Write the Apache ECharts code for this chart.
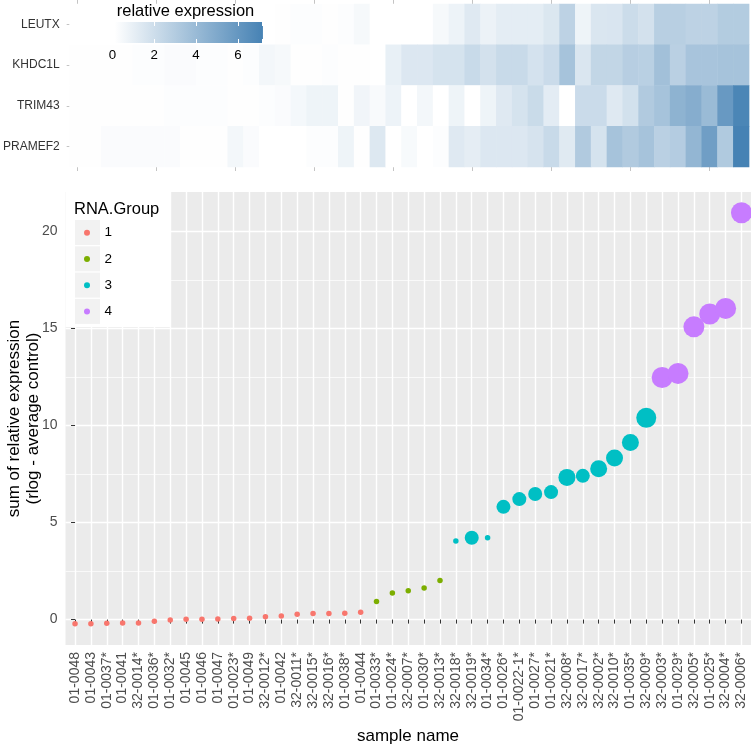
<!DOCTYPE html>
<html><head><meta charset="utf-8">
<script src="https://cdn.jsdelivr.net/npm/echarts@6/dist/echarts.min.js"></script>
<style>html,body{margin:0;padding:0;background:#fff}#c{width:751px;height:750px}</style>
</head><body><div id="c"></div>
<script>
// ---------------- data ----------------
const samples = ['01-0048','01-0043','01-0037*','01-0041','32-0014*','01-0036*','01-0032*','01-0045','01-0046','01-0047','01-0023*','01-0049','32-0012*','01-0042','32-0011*','32-0015*','32-0016*','01-0038*','01-0044',
  '01-0033*','01-0024*','32-0007*','01-0030*','32-0013*',
  '32-0018*','32-0019*','01-0034*','01-0026*','01-0022-1*','01-0027*','01-0021*','32-0008*','32-0017*','32-0002*','32-0010*','01-0035*','32-0009*',
  '32-0003*','01-0029*','32-0005*','01-0025*','32-0004*','32-0006*'];
const rnaGroup = [1,1,1,1,1,1,1,1,1,1,1,1,1,1,1,1,1,1,1, 2,2,2,2,2, 3,3,3,3,3,3,3,3,3,3,3,3,3, 4,4,4,4,4,4];
const sumExpression = [-0.21,-0.21,-0.19,-0.17,-0.17,-0.09,-0.02,0.02,0.02,0.03,0.05,0.07,0.14,0.19,0.28,0.31,0.31,0.33,0.38,
  0.93,1.37,1.49,1.63,2.01,
  4.05,4.22,4.22,5.81,6.21,6.47,6.57,7.33,7.41,7.77,8.33,9.13,10.40,
  12.48,12.69,15.09,15.75,16.04,20.97];
// size class of each point (mapped to symbol size)
const sizeClass = [0,0,0,0,0,0,0,0,0,0,0,0,0,0,0,0,0,0,0, 0,0,0,0,0, 0,1,0,1,1,1,1,2,1,2,2,2,3, 4,4,4,4,4,4];
const groups = ['1','2','3','4'];
const genes = ['LEUTX','KHDC1L','TRIM43','PRAMEF2'];
const exprLEUTX = [0.1,0.1,0.1,0.1,0.1,0.1,0.1,0.1,0.1,0.1,0.1,0.1,0.1,0.15,0.2,0.2,0.15,0.2,0.45,0.1,0.1,0.1,0.1,
  0.45,0.79,1.33,0.83,1.14,1.14,1.14,1.48,2.63,0.75,1.52,1.56,2.1,1.79,2.83,2.83,2.63,2.63,3.02,3.02];
const exprKHDC1L = [0.15,0.15,0.15,0.15,0.2,0.2,0.3,0.3,0.2,0.2,0.15,0.2,0.56,0.45,0.15,0.15,0.2,0.15,0.15,0.1,
  0.98,1.44,1.44,1.71,1.71,2.21,1.79,2.21,2.21,1.75,2.13,3.52,1.52,2.44,2.44,2.86,2.79,3.67,2.75,3.44,3.44,3.52,3.52];
const exprTRIM43 = [0.15,0.15,0.15,0.15,0.15,0.15,0.2,0.2,0.2,0.2,0.15,0.15,0.2,0.3,0.52,0.75,0.75,0.15,0.64,0.37,
  0.79,0.1,0.56,0.1,0.75,0.1,0.75,1.33,1.71,2.17,1.17,0.1,2.13,2.13,1.33,1.83,3.1,3.52,4.44,4.74,3.98,5.9,7.0];
const exprPRAMEF2 = [0.15,0.15,0.3,0.3,0.3,0.3,0.3,0.15,0.15,0.15,0.56,0.3,0.1,0.1,0.1,0.2,0.2,0.75,0.15,1.4,
  0.1,0.4,0.1,0.2,1.33,1.1,1.44,1.44,1.44,1.67,2.21,1.29,3.1,1.71,3.52,3.1,3.52,2.75,2.98,4.25,5.59,3.13,7.2];
const colorbarTicks = [0,2,4,6];
const yMajorTicks = [0,5,10,15,20];
const yMinorTicks = [2.5,7.5,12.5,17.5];

// ---------------- styling ----------------
const groupColors = ['#F8766D','#7CAE00','#00BFC4','#C77CFF'];
const sizePx = [5.5,14,17,20,21];
const lowColor = '#ffffff', highColor = '#4682B4';
const txt = '#4D4D4D';
const font = 'Liberation Sans';

const exprRows = [exprLEUTX, exprKHDC1L, exprTRIM43, exprPRAMEF2];
const heatData = [];
exprRows.forEach((row, g) => row.forEach((v, i) => heatData.push([i, genes.length - 1 - g, v])));
const allExpr = [].concat(...exprRows);
const fillMin = Math.min(...allExpr), fillMax = Math.max(...allExpr);

const idx = samples.map((_, i) => i);
const scatterSeries = groups.map((g, k) => ({
  type: 'scatter', name: g, xAxisIndex: 2, yAxisIndex: 1, z: 3,
  itemStyle: { color: groupColors[k], opacity: 1 },
  symbolSize: (v) => sizePx[v[2]],
  data: idx.filter(i => String(rnaGroup[i]) === g).map(i => [i, sumExpression[i], sizeClass[i]])
}));

const keyGraphics = groups.map((g, k) => ({
  type: 'rect', z: 6, shape: { x: 75, y: 220 + 26.3 * k, width: 25, height: 25 },
  style: { fill: '#F2F2F2' }
}));

const option = {
  animation: false,
  backgroundColor: '#ffffff',
  grid: [
    { left: 67.1, width: 682, top: 4, height: 163 },
    { left: 65.5, right: 0, top: 192, height: 453, show: true, backgroundColor: '#EBEBEB', borderWidth: 0 },
    { left: 112.5, width: 149.8, top: 22, height: 21 }
  ],
  xAxis: [
    { gridIndex: 0, type: 'category', data: samples, position: 'bottom',
      axisLine: { show: false }, axisLabel: { show: false },
      axisTick: { show: true, alignWithLabel: true, length: 4, lineStyle: { color: '#c4c4c4' } }, splitLine: { show: false } },
    { gridIndex: 0, type: 'category', data: samples, position: 'top',
      axisLine: { show: false }, axisLabel: { show: false },
      axisTick: { show: true, alignWithLabel: true, length: 4, lineStyle: { color: '#c4c4c4' } }, splitLine: { show: false } },
    { gridIndex: 1, type: 'value', min: -0.6, max: samples.length - 0.4,
      axisLine: { show: false },
      axisTick: { show: true, customValues: idx, length: 4, lineStyle: { color: '#333333', width: 1 } },
      axisLabel: { customValues: idx, rotate: 90, margin: 7, fontSize: 14, color: txt, fontFamily: font,
        formatter: (v) => samples[Math.round(v)] },
      splitLine: { show: true, lineStyle: { color: '#ffffff', width: 1.4 } } },
    { gridIndex: 2, type: 'value', min: 0, max: 7.17, interval: 2, position: 'bottom', z: 5,
      axisLine: { show: false }, splitLine: { show: false },
      axisTick: { show: true, inside: true, length: 4, lineStyle: { color: '#ffffff', width: 1 } },
      axisLabel: { customValues: colorbarTicks, margin: 6, fontSize: 13.3, color: '#000000', fontFamily: font } },
    { gridIndex: 2, type: 'value', min: 0, max: 7.17, interval: 2, position: 'top', z: 5,
      axisLine: { show: false }, splitLine: { show: false }, axisLabel: { show: false },
      axisTick: { show: true, inside: true, length: 4, lineStyle: { color: '#ffffff', width: 1 } } }
  ],
  yAxis: [
    { gridIndex: 0, type: 'category', data: genes.slice().reverse(),
      axisLine: { show: false }, splitLine: { show: false },
      axisTick: { show: true, alignWithLabel: true, length: 3, lineStyle: { color: '#c4c4c4' } },
      axisLabel: { margin: 10, fontSize: 12, color: '#333333', fontFamily: font } },
    { gridIndex: 1, type: 'value', min: -1.31, max: 22.04,
      axisLine: { show: false },
      axisTick: { show: true, customValues: yMajorTicks, length: 4, lineStyle: { color: '#333333' } },
      axisLabel: { customValues: yMajorTicks, margin: 8, fontSize: 14, color: txt, fontFamily: font } ,
      splitLine: { show: true, lineStyle: { color: '#ffffff', width: 1.4 } } },
    { gridIndex: 1, type: 'value', min: -1.31, max: 22.04,
      axisLine: { show: false }, axisLabel: { show: false },
      axisTick: { show: false, customValues: yMinorTicks },
      splitLine: { show: true, lineStyle: { color: '#ffffff', width: 0.7 } } },
    { gridIndex: 2, type: 'value', min: 0, max: 1, show: false }
  ],
  visualMap: {
    show: false, type: 'continuous', seriesIndex: 0, dimension: 2,
    min: fillMin, max: fillMax, inRange: { color: [lowColor, highColor] }
  },
  legend: {
    orient: 'vertical', left: 84, top: 225.7, padding: 0, z: 10,
    icon: 'circle', itemWidth: 25, itemHeight: 6, itemGap: 12.3,
    textStyle: { fontSize: 13.5, color: '#000000', lineHeight: 14, fontFamily: font },
    data: groups
  },
  graphic: [
    { type: 'rect', z: 5, shape: { x: 65.5, y: 192, width: 104.5, height: 135 }, style: { fill: '#ffffff' } },
    ...keyGraphics,
    { type: 'text', z: 6, x: 74, y: 209, style: { text: 'RNA.Group', fontSize: 16.5, fill: '#000', fontFamily: font, textVerticalAlign: 'middle' } },
    { type: 'text', z: 6, x: 185.5, y: 11, style: { text: 'relative expression', fontSize: 16.5, fill: '#000', fontFamily: font, textAlign: 'center', textVerticalAlign: 'middle' } },
    { type: 'text', z: 6, x: 408, y: 736, style: { text: 'sample name', fontSize: 17, fill: '#000', fontFamily: font, textAlign: 'center', textVerticalAlign: 'middle' } },
    { type: 'text', z: 6, x: 24, y: 418.5, rotation: Math.PI / 2,
      style: { text: 'sum of relative expression\n(rlog - average control)', fontSize: 17, lineHeight: 18.5, fill: '#000', fontFamily: font, textAlign: 'center', textVerticalAlign: 'middle' } }
  ],
  series: [
    { type: 'heatmap', xAxisIndex: 0, yAxisIndex: 0, data: heatData, itemStyle: { borderWidth: 0 }, emphasis: { disabled: true } },
    ...scatterSeries,
    { type: 'custom', xAxisIndex: 3, yAxisIndex: 3, z: 2, silent: true,
      data: [[fillMin, fillMax]],
      renderItem: (params, api) => {
        const p0 = api.coord([api.value(0), 0]);
        const p1 = api.coord([api.value(1), 1]);
        return { type: 'rect', shape: { x: p0[0], y: p1[1], width: p1[0] - p0[0], height: p0[1] - p1[1] },
          style: { fill: new echarts.graphic.LinearGradient(0, 0, 1, 0, [{ offset: 0, color: lowColor }, { offset: 1, color: highColor }]) } };
      } }
  ]
};
const chart = echarts.init(document.getElementById('c'), null, { renderer: 'canvas' });
chart.setOption(option);
</script></body></html>
